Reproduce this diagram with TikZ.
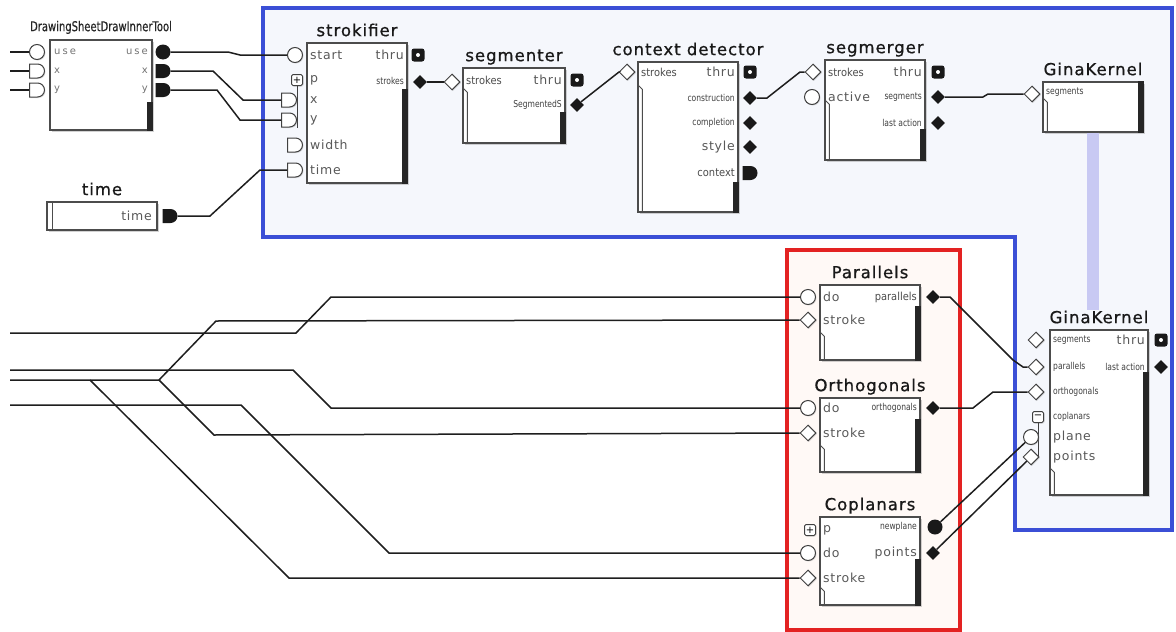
\documentclass[tikz,border=0pt]{standalone}
\usepackage{fontspec}
\setmainfont{DejaVu Sans}
\usepackage{graphicx}
\usetikzlibrary{positioning,shapes.geometric,shapes.misc,shadows}

\definecolor{frameblue}{HTML}{3B4FD6}
\definecolor{paneblue}{HTML}{F5F7FC}
\definecolor{framered}{HTML}{E32222}
\definecolor{panered}{HTML}{FFF9F6}
\definecolor{kernelbar}{HTML}{C8C9F3}
\definecolor{wiregray}{HTML}{1E1E1E}

\tikzset{
  modbox/.style={draw=black!70, line width=1.3pt, fill=white, inner sep=0pt,
    drop shadow={shadow xshift=1.6pt, shadow yshift=-1.6pt, opacity=0.35}},
  bar/.style={fill=black!85},
  fold/.style={draw=black!70, line width=1pt},
  title/.style={font=\fontsize{16.5}{18}\selectfont\addfontfeature{LetterSpace=6,FakeBold=0.8}, text=black!90, inner sep=0pt, text depth=0pt},
  dstitle/.style={font=\fontsize{13.5}{14}\selectfont\addfontfeature{FakeStretch=0.74,FakeBold=0.5}, text=black!85, inner sep=0pt, text depth=0pt},
  lbl/.style={font=\fontsize{12.5}{14}\selectfont\addfontfeature{LetterSpace=6}, text=black!65, inner sep=0pt},
  mid/.style={font=\fontsize{11}{12}\selectfont\addfontfeature{FakeStretch=0.9}, text=black!70, inner sep=0pt},
  tny/.style={font=\fontsize{9.5}{10}\selectfont\addfontfeature{FakeStretch=0.8}, text=black!75, inner sep=0pt},
  dsl/.style={font=\fontsize{10}{11}\selectfont\addfontfeature{LetterSpace=20}, text=black!55, inner sep=0pt},
  port/.style={draw=black!75, line width=1pt, fill=white, inner sep=0pt,
    drop shadow={shadow xshift=1pt, shadow yshift=-1pt, opacity=0.25}},
  inc/.style={port, circle, minimum size=15pt},
  ind/.style={port, diamond, minimum size=16pt},
  inD/.style={port, rounded rectangle, rounded rectangle west arc=none, minimum width=15pt, minimum height=14pt},
  grp/.style={port, rectangle, rounded corners=1.5pt, minimum size=11pt, font=\fontsize{10}{10}\selectfont},
  outc/.style={circle, fill=black!90, minimum size=15pt, inner sep=0pt},
  outd/.style={diamond, fill=black!90, minimum size=14pt, inner sep=0pt},
  outD/.style={rounded rectangle, rounded rectangle west arc=none, fill=black!90, minimum width=15pt, minimum height=14pt, inner sep=0pt},
  thru/.style={rectangle, rounded corners=2.5pt, fill=black!90, minimum size=13pt, inner sep=0pt,
    path picture={\fill[white] (path picture bounding box.center) circle (2pt);}},
  wire/.style={draw=wiregray, line width=1.5pt},
  link/.style={draw=kernelbar, line width=12pt},
}

\begin{document}
\begin{tikzpicture}[x=1pt, y=-1pt]
    \useasboundingbox (0,0) rectangle (1176,632);
    \fill[white] (0,0) rectangle (1176,632);

    % panels
    \draw[frameblue, line width=3.5pt, fill=paneblue]
        (263,8) -- (1172,8) -- (1172,530) -- (1015,530) -- (1015,237) -- (263,237) -- cycle;
    \draw[framered, line width=3.5pt, fill=panered] (787,250) rectangle (960,630);

    % modules
    \node[modbox, minimum width=102pt, minimum height=90pt]  (ds)    at (101,85)     {};
    \node[modbox, minimum width=100pt, minimum height=140pt] (strok) at (357,113)    {};
    \node[modbox, minimum width=110pt, minimum height=28pt]  (time)  at (102,216)    {};
    \node[modbox, minimum width=102pt, minimum height=75pt]  (segm)  at (514,105.5)  {};
    \node[modbox, minimum width=100pt, minimum height=150pt] (ctx)   at (688,137)    {};
    \node[modbox, minimum width=100pt, minimum height=100pt] (smg)   at (875,110)    {};
    \node[modbox, minimum width=100pt, minimum height=50pt]  (gk1)   at (1093,107)   {};
    \node[modbox, minimum width=100pt, minimum height=75pt]  (par)   at (870,322.5)  {};
    \node[modbox, minimum width=100pt, minimum height=74pt]  (orth)  at (870,435)    {};
    \node[modbox, minimum width=100pt, minimum height=88pt]  (cop)   at (870,561)    {};
    \node[modbox, minimum width=98pt,  minimum height=165pt] (gk2)   at (1099,412.5) {};

    \foreach \b/\d in {ds/63, strok/47, segm/45, ctx/121, smg/70, gk1/0, par/22, orth/22, cop/43, gk2/43}
        \fill[bar] ([xshift=-6pt, yshift=-\d pt]\b.north east) rectangle (\b.south east);
    \foreach \b/\o in {segm/20, ctx/23, smg/40, gk1/16, par/47, orth/47, cop/70, gk2/138}
        \draw[fold] ([yshift=-\o pt]\b.north west) -- ++(5,5) -- ([xshift=5pt]\b.south west);
    \draw[fold] ([xshift=6pt]time.north west) -- ([xshift=6pt]time.south west);

    % titles
    \node[dstitle, above=8pt of ds] (ds-title) {DrawingSheetDrawInnerTool};
    \node[title, above=6pt of strok] (strok-title) {strokifier};
    \node[title, above=6pt of time] (time-title) {time};
    \node[title, above=6pt of segm] (segm-title) {segmenter};
    \node[title, above=6pt of ctx] (ctx-title) {context detector};
    \node[title, above=6pt of smg] (smg-title) {segmerger};
    \node[title, above=6pt of gk1] (gk1-title) {GinaKernel};
    \node[title, above=6pt of par] (par-title) {Parallels};
    \node[title, above=6pt of orth] (orth-title) {Orthogonals};
    \node[title, above=6pt of cop] (cop-title) {Coplanars};
    \node[title, above=6pt of gk2] (gk2-title) {GinaKernel};

    % labels
    \foreach \y/\t [count=\i] in {52/use,71/x,90/y} {
        \node[dsl, anchor=west] (ds-l\i) at (54,\y) {\t};
        \node[dsl, anchor=east] (ds-r\i) at (148,\y) {\t};
    }
    \foreach \y/\t [count=\i] in {55/start,80/p,100/x,120/y,145/width,170/time}
        \node[lbl, anchor=west] (strok-l\i) at (310,\y) {\t};
    \node[lbl, anchor=east] (strok-r1) at (404,55) {thru};
    \node[tny, anchor=east] (strok-r2) at (404,81) {strokes};
    \node[lbl, anchor=east] (time-r1) at (152,216) {time};

    \node[mid, anchor=west] (segm-l1) at (466,80) {strokes};
    \node[lbl, anchor=east] (segm-r1) at (562,80) {thru};
    \node[tny, anchor=east] (segm-r2) at (562,105) {SegmentedS};

    \node[mid, anchor=west] (ctx-l1) at (641,72) {strokes};
    \node[lbl, anchor=east] (ctx-r1) at (735,72) {thru};
    \node[tny, anchor=east] (ctx-r2) at (735,98) {construction};
    \node[tny, anchor=east] (ctx-r3) at (735,123) {completion};
    \node[lbl, anchor=east] (ctx-r4) at (735,147) {style};
    \node[mid, anchor=east] (ctx-r5) at (735,173) {context};

    \node[mid, anchor=west] (smg-l1) at (828,72) {strokes};
    \node[lbl, anchor=west] (smg-l2) at (828,97) {active};
    \node[lbl, anchor=east] (smg-r1) at (922,72) {thru};
    \node[tny, anchor=east] (smg-r2) at (922,97) {segments};
    \node[tny, anchor=east] (smg-r3) at (922,123) {last action};

    \node[tny, anchor=west] (gk1-l1) at (1046,92) {segments};

    \foreach \b/\ya/\yb in {par/297/320, orth/408/433} {
        \node[lbl, anchor=west] (\b-l1) at (823,\ya) {do};
        \node[lbl, anchor=west] (\b-l2) at (823,\yb) {stroke};
    }
    \node[mid, anchor=east] (par-r1) at (917,297) {parallels};
    \node[tny, anchor=east] (orth-r1) at (917,408) {orthogonals};
    \foreach \y/\t [count=\i] in {530/p,553/do,578/stroke}
        \node[lbl, anchor=west] (cop-l\i) at (823,\y) {\t};
    \node[tny, anchor=east] (cop-r1) at (917,527) {newplane};
    \node[lbl, anchor=east] (cop-r2) at (917,553) {points};

    \foreach \y/\t [count=\i] in {340/segments,367/parallels,392/orthogonals,417/coplanars}
        \node[tny, anchor=west] (gk2-l\i) at (1053,\y) {\t};
    \node[lbl, anchor=west] (gk2-l5) at (1053,437) {plane};
    \node[lbl, anchor=west] (gk2-l6) at (1053,457) {points};
    \node[lbl, anchor=east] (gk2-r1) at (1145,340) {thru};
    \node[tny, anchor=east] (gk2-r2) at (1145,367) {last action};

    % ports
    \node[inc] (ds-use-in) at (37,52) {};
    \node[inD] (ds-x-in) at (37,71) {};
    \node[inD] (ds-y-in) at (37,90) {};
    \node[outc] (ds-use-out) at (163,52) {};
    \node[outD] (ds-x-out) at (163,71) {};
    \node[outD] (ds-y-out) at (163,90) {};
    \node[outD] (time-out) at (170,216) {};

    \node[inc] (strok-start) at (295,55) {};
    \node[grp] (strok-p) at (297,80) {+};
    \draw[black!75, line width=1pt] (strok-p.south) -- ++(0,42);
    \node[inD] (strok-x) at (289,100) {};
    \node[inD] (strok-y) at (289,120) {};
    \node[inD] (strok-width) at (295,145) {};
    \node[inD] (strok-time) at (295,170) {};
    \node[thru] (strok-thru) at (418,55) {};
    \node[outd] (strok-strokes) at (420,82) {};

    \node[ind] (segm-strokes) at (452,82) {};
    \node[thru] (segm-thru) at (577,80) {};
    \node[outd] (segm-segs) at (577,105) {};

    \node[ind] (ctx-strokes) at (627,72) {};
    \node[thru] (ctx-thru) at (750,72) {};
    \node[outd] (ctx-constr) at (750,98) {};
    \node[outd] (ctx-compl) at (750,123) {};
    \node[outd] (ctx-style) at (750,147) {};
    \node[outD] (ctx-ctx) at (750,173) {};

    \node[ind] (smg-strokes) at (813,72) {};
    \node[inc] (smg-active) at (812,97) {};
    \node[thru] (smg-thru) at (938,72) {};
    \node[outd] (smg-segs) at (938,97) {};
    \node[outd] (smg-last) at (938,123) {};

    \node[ind] (gk1-segs) at (1032,94) {};

    \node[inc] (par-do) at (808,297) {};
    \node[ind] (par-stroke) at (808,320) {};
    \node[outd] (par-out) at (933,297) {};
    \node[inc] (orth-do) at (808,408) {};
    \node[ind] (orth-stroke) at (808,433) {};
    \node[outd] (orth-out) at (933,408) {};
    \node[grp] (cop-p) at (810,530) {+};
    \node[inc] (cop-do) at (808,553) {};
    \node[ind] (cop-stroke) at (808,578) {};
    \node[outc] (cop-new) at (935,527) {};
    \node[outd] (cop-pts) at (933,553) {};

    \node[ind] (gk2-segs) at (1036,340) {};
    \node[ind] (gk2-par) at (1036,367) {};
    \node[ind] (gk2-orth) at (1036,392) {};
    \node[grp] (gk2-cop) at (1038,417) {−};
    \draw[black!75, line width=1pt] (gk2-cop.south) -- ++(0,33);
    \node[inc] (gk2-plane) at (1031,437) {};
    \node[ind] (gk2-pts) at (1031,457) {};
    \node[thru] (gk2-thru) at (1161,340) {};
    \node[outd] (gk2-last) at (1161,367) {};

    % kernel link
    \draw[link] (gk1.south) -- (gk1.south |- gk2-title.north);

    % wires
    \foreach \p/\y in {use/52,x/71,y/90} {
        \coordinate (feed-\p) at (10,\y);
        \draw[wire] (feed-\p) -- (ds-\p-in);
    }
    \draw[wire] (ds-use-out) -- ++(65,0) -- ++(12,3) -- (strok-start);
    \draw[wire] (ds-x-out) -- ++(50,0) -- ++(30,29) -- (strok-x);
    \draw[wire] (ds-y-out) -- ++(54,0) -- ++(23,30) -- (strok-y);
    \draw[wire] (time-out) -- ++(40,0) -- ++(50,-46) -- (strok-time);
    \draw[wire] (strok-strokes) -- (segm-strokes);
    \draw[wire] (segm-segs) -- ++(42,-33) -- (ctx-strokes);
    \draw[wire] (ctx-constr) -- ++(17,0) -- ++(33,-26) -- (smg-strokes);
    \draw[wire] (smg-segs) -- ++(45,0) -- ++(5,-3) -- (gk1-segs);
    \draw[wire] (par-out) -- ++(17,0) -- ++(63,63) -- ++(10,7) -- (gk2-par);
    \draw[wire] (orth-out) -- ++(40,0) -- ++(20,-16) -- (gk2-orth);
    \draw[wire] (cop-new) -- (gk2-plane);
    \draw[wire] (cop-pts) -- (gk2-pts);

    \coordinate (src-pdo) at (10,333);
    \coordinate (src-odo) at (10,370);
    \coordinate (src-stroke) at (10,380);
    \coordinate (src-cdo) at (10,405);
    \coordinate (split-a) at (90,380);
    \coordinate (split-b) at (159,380);
    \draw[wire] (src-pdo) -- ++(286,0) -- ++(35,-36) -- (par-do);
    \draw[wire] (src-odo) -- ++(283,0) -- ++(38,38) -- (orth-do);
    \draw[wire] (src-cdo) -- ++(231,0) -- ++(148,148) -- (cop-do);
    \draw[wire] (src-stroke) -- (split-b) -- ++(57,-59) -- (par-stroke);
    \draw[wire] (split-b) -- ++(55,55) -- (orth-stroke);
    \draw[wire] (split-a) -- ++(199,198) -- (cop-stroke);
\end{tikzpicture}
\end{document}
